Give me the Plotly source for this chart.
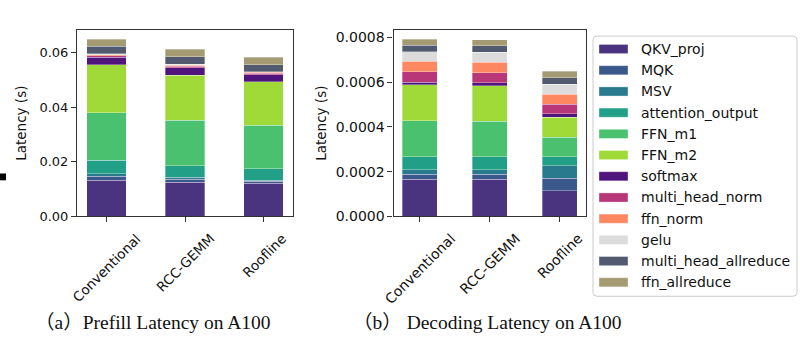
import plotly.graph_objects as go

categories = ["Conventional", "RCC-GEMM", "Roofline"]
components = ["QKV_proj", "MQK", "MSV", "attention_output", "FFN_m1", "FFN_m2",
              "softmax", "multi_head_norm", "ffn_norm", "gelu",
              "multi_head_allreduce", "ffn_allreduce"]
colors = ["#4a3480", "#3a588c", "#287a8c", "#22a087", "#4ac16e", "#a0da39",
          "#50147d", "#b73779", "#fc8761", "#dcdcdc", "#525a70", "#a59b73"]

# Prefill latency (s), one list per method, in component order
prefill_conventional = [0.0132, 0.00155, 0.00085, 0.0049, 0.0175, 0.0176,
                        0.0027, 0.0006, 0.0004, 0.0003, 0.0028, 0.0026]
prefill_rcc_gemm = [0.0125, 0.0012, 0.0006, 0.00427, 0.01667, 0.01655,
                    0.00273, 0.0005, 0.0004, 0.0003, 0.0028, 0.0027]
prefill_roofline = [0.0121, 0.0007, 0.0005, 0.0041, 0.0160, 0.0160,
                    0.0025, 0.0005, 0.0004, 0.0003, 0.0025, 0.0027]

# Decoding latency (s)
decode_conventional = [0.000167, 0.000022, 0.000020, 0.000058, 0.000160, 0.000161,
                       0.000013, 0.000045, 0.000047, 0.000043, 0.000029, 0.000028]
decode_rcc_gemm = [0.000167, 0.000022, 0.000020, 0.000057, 0.000159, 0.000159,
                   0.000013, 0.000046, 0.000047, 0.000045, 0.000029, 0.000027]
decode_roofline = [0.000115, 0.000055, 0.000057, 0.000039, 0.000088, 0.000090,
                   0.000015, 0.000043, 0.000045, 0.000045, 0.000029, 0.000029]

captions = ["（a）Prefill Latency on A100", "（b） Decoding Latency on A100"]
y_title = "Latency (s)"

W, H = 800, 353
def px(x):
    return x / W
def py(y):
    return (H - y) / H

prefill = [prefill_conventional, prefill_rcc_gemm, prefill_roofline]
decode = [decode_conventional, decode_rcc_gemm, decode_roofline]

fig = go.Figure()
for i, comp in enumerate(components):
    fig.add_trace(go.Bar(x=categories, y=[p[i] for p in prefill], name=comp,
                         marker=dict(color=colors[i], line=dict(color="rgba(255,255,255,0.55)", width=0.6)),
                         width=0.5, xaxis="x", yaxis="y", showlegend=False))
    fig.add_trace(go.Bar(x=categories, y=[d[i] for d in decode], name=comp,
                         marker=dict(color=colors[i], line=dict(color="rgba(255,255,255,0.55)", width=0.6)),
                         width=0.5, xaxis="x2", yaxis="y2", showlegend=False))

ymax1 = max(sum(p) for p in prefill) * 1.05
ymax2 = max(sum(d) for d in decode) * 1.05

axis_common = dict(showline=True, mirror=True, linecolor="#333333", linewidth=1.1,
                   ticks="outside", ticklen=5, tickcolor="#333333", tickwidth=1,
                   showgrid=False, zeroline=False)
font_tick = dict(family="DejaVu Sans", color="#111111")

fig.update_layout(
    width=W, height=H, margin=dict(l=0, r=0, t=0, b=0),
    paper_bgcolor="white", plot_bgcolor="white", barmode="stack", showlegend=False,
    xaxis=dict(domain=[px(77), px(293)], type="category", range=[-0.375, 2.375],
               showticklabels=False, anchor="y", **axis_common),
    yaxis=dict(domain=[py(221), py(30)], range=[0, ymax1], dtick=0.02, tickformat=".2f",
               tickfont=dict(size=13, **font_tick), anchor="x", **axis_common),
    xaxis2=dict(domain=[px(393.5), px(586)], type="category", range=[-0.375, 2.375],
                showticklabels=False, anchor="y2", **axis_common),
    yaxis2=dict(domain=[py(221), py(30)], range=[0, ymax2], dtick=0.0002, tickformat=".4f",
                tickfont=dict(size=14, **font_tick), anchor="x2", **axis_common),
)

ann = []
# rotated category labels
for xr, fs in (("x", 13.5), ("x2", 14)):
    for c in categories:
        ann.append(dict(x=c, xref=xr, y=py(233), yref="paper", text=c, textangle=-45,
                        showarrow=False, xanchor="center", yanchor="top",
                        font=dict(family="DejaVu Sans", size=fs, color="#111111")))
# y titles
for xc in (21, 321):
    ann.append(dict(x=px(xc), y=py(126), xref="paper", yref="paper", text=y_title,
                    textangle=-90, showarrow=False, xanchor="center", yanchor="middle",
                    font=dict(family="DejaVu Sans", size=13.5, color="#111111")))
# captions
for xs, t in zip((33, 351), captions):
    ann.append(dict(x=px(xs), y=py(330), xref="paper", yref="paper", text=t,
                    showarrow=False, xanchor="left", yanchor="middle",
                    font=dict(family="Liberation Serif, Noto Sans CJK SC", size=19.5, color="#111111")))

shapes = []
# legend box (rounded)
x0, x1, y0, y1 = 593, 797, 36, 303
r = 4
path = (f"M {px(x0+r)},{py(y0)} L {px(x1-r)},{py(y0)} Q {px(x1)},{py(y0)} {px(x1)},{py(y0+r)} "
        f"L {px(x1)},{py(y1-r)} Q {px(x1)},{py(y1)} {px(x1-r)},{py(y1)} "
        f"L {px(x0+r)},{py(y1)} Q {px(x0)},{py(y1)} {px(x0)},{py(y1-r)} "
        f"L {px(x0)},{py(y0+r)} Q {px(x0)},{py(y0)} {px(x0+r)},{py(y0)} Z")
shapes.append(dict(type="path", path=path, xref="paper", yref="paper",
                   line=dict(color="#cccccc", width=1), fillcolor="white"))
for i, comp in enumerate(components):
    yc = 49.3 + i * 21.76
    shapes.append(dict(type="rect", xref="paper", yref="paper",
                       x0=px(599), x1=px(628), y0=py(yc - 4.7), y1=py(yc + 4.7),
                       fillcolor=colors[i], line=dict(color="rgba(255,255,255,0.6)", width=0.6)))
    ann.append(dict(x=px(639), y=py(yc), xref="paper", yref="paper", text=comp,
                    showarrow=False, xanchor="left", yanchor="middle",
                    font=dict(family="DejaVu Sans", size=14, color="#111111")))
# small black mark at left edge
shapes.append(dict(type="rect", xref="paper", yref="paper", x0=0, x1=px(6), y0=py(184), y1=py(177),
                   fillcolor="black", line=dict(width=0)))

fig.update_layout(annotations=ann, shapes=shapes)
fig.write_html("out.html")
